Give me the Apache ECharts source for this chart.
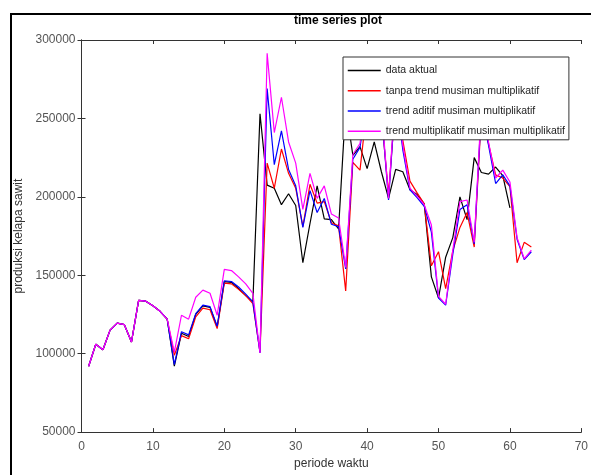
<!DOCTYPE html>
<html>
<head>
<meta charset="utf-8">
<script src="https://cdn.jsdelivr.net/npm/echarts@6/dist/echarts.min.js"></script>
<style>html,body{margin:0;padding:0;background:#fff}#c{width:591px;height:475px}</style>
</head>
<body>
<div id="c"></div>
<script>
var periods = [];
for (var i = 1; i <= 63; i++) periods.push(i);

var dataAktual = [92000,106000,102500,115000,119500,118500,107500,134000,133500,130500,127000,122000,
  92000,113000,111000,125000,130500,129500,117000,146000,145500,141500,137000,133000,
  253000,207500,205500,195000,202000,194500,158000,183000,207000,186000,185500,179500,
  258000,226500,232000,218000,235000,216000,199000,217500,216000,204500,201500,195500,
  149000,135500,161500,174000,200000,185500,225000,215500,214500,219000,213500,193000];

var tanpaTrend = [92000,106000,102500,115000,119500,118500,107500,134000,133500,130500,127000,122000,
  99000,111500,109500,123500,129000,128000,116000,145000,144500,141000,137000,132000,
  101000,221500,205500,230500,215000,205500,181000,208000,196000,197000,183500,181500,
  140000,222000,217000,258000,262000,252000,202000,262000,236000,210000,202500,195500,
  156000,165000,141500,165500,180500,190000,168000,252000,234000,214000,212000,206500,
  158000,171000,168000];

var trendAditif = [92000,106000,102500,115000,119500,118500,107500,134000,133500,130500,127000,122000,
  93000,114000,112000,125500,131000,130000,117500,146500,146000,142500,138000,133000,
  100500,269000,220500,242000,217500,207000,180500,204000,190000,199000,182500,181000,
  154000,224000,231500,262000,265000,255000,198000,265000,230000,204500,199500,194000,
  177500,135500,131000,163500,192000,195000,170000,255000,233000,208500,214000,207000,
  173000,160000,165000];

var trendMulti = [92000,106000,102500,115000,119500,118500,107500,134000,133500,130500,127000,122000,
  101000,124500,122000,136000,140500,138500,124500,153700,153000,149000,144500,138500,
  100500,291500,241000,263500,235000,221500,192000,215000,199000,207000,189000,186500,
  155000,227000,234000,266000,268000,258000,199000,270000,233000,205500,200500,195000,
  182000,136500,131500,166000,197000,198000,171000,258000,235000,212000,217000,209500,
  174000,160500,166000];

var seriesNames = ['data aktual','tanpa trend musiman multiplikatif','trend aditif musiman multiplikatif','trend multiplikatif musiman multiplikatif'];
var seriesColors = ['#000000','#ff0000','#0000ff','#ff00ff'];
var seriesValues = [dataAktual, tanpaTrend, trendAditif, trendMulti];

function pairs(vals){ return vals.map(function(v,i){ return [periods[i], v]; }); }

var FONT = 'Liberation Sans';
var axisLine = {show:true, lineStyle:{color:'#333', width:1}};
var ticks = {show:true, inside:true, length:4, lineStyle:{color:'#333'}};

var chart = echarts.init(document.getElementById('c'), null, {renderer:'canvas'});
chart.setOption({
  animation:false,
  backgroundColor:'#fff',
  textStyle:{fontFamily:FONT},
  title:{text:'time series plot', left:333, top:10, textAlign:'center',
    textStyle:{fontFamily:FONT, fontSize:12, fontWeight:'bold', color:'#000'}},
  grid:{left:81.5, right:4, top:40, bottom:38, containLabel:false},
  legend:{
    orient:'vertical', left:343, top:57,
    data:seriesNames,
    itemWidth:33, itemHeight:14, itemGap:9,
    padding:[8,4,3,4],
    itemStyle:{opacity:0},
    lineStyle:{width:1.5},
    backgroundColor:'#fff', borderColor:'#333', borderWidth:1,
    textStyle:{fontFamily:FONT, fontSize:10.5, color:'#222'},
    z:10
  },
  graphic:[{type:'rect', shape:{x:11, y:14, width:600, height:500}, style:{fill:null, stroke:'#000', lineWidth:2}, silent:true, z:20}],
  xAxis:[
    {type:'value', min:0, max:70, interval:10, position:'bottom',
     name:'periode waktu', nameLocation:'middle', nameGap:24,
     nameTextStyle:{fontFamily:FONT, fontSize:12, color:'#333'},
     axisLine:axisLine, axisTick:ticks, splitLine:{show:false},
     axisLabel:{fontFamily:FONT, fontSize:12, color:'#555', margin:9}},
    {type:'value', min:0, max:70, interval:10, position:'top',
     axisLine:axisLine, axisTick:ticks, splitLine:{show:false}, axisLabel:{show:false}}
  ],
  yAxis:[
    {type:'value', min:50000, max:300000, interval:50000, position:'left',
     name:'produksi kelapa sawit', nameLocation:'middle', nameGap:47, nameRotate:90,
     nameTextStyle:{fontFamily:FONT, fontSize:12, color:'#333'},
     axisLine:axisLine, axisTick:ticks, splitLine:{show:false},
     axisLabel:{fontFamily:FONT, fontSize:12, color:'#555', margin:6,
       formatter:function(v){ return String(v); }}},
    {type:'value', min:50000, max:300000, interval:50000, position:'right',
     axisLine:axisLine, axisTick:ticks, splitLine:{show:false}, axisLabel:{show:false}}
  ],
  series: seriesValues.map(function(vals, k){
    return {name:seriesNames[k], type:'line', data:pairs(vals), xAxisIndex:0, yAxisIndex:0,
      symbol:'none', color:seriesColors[k], lineStyle:{color:seriesColors[k], width:1.2},
      z:2+k};
  })
});
</script>
</body>
</html>
